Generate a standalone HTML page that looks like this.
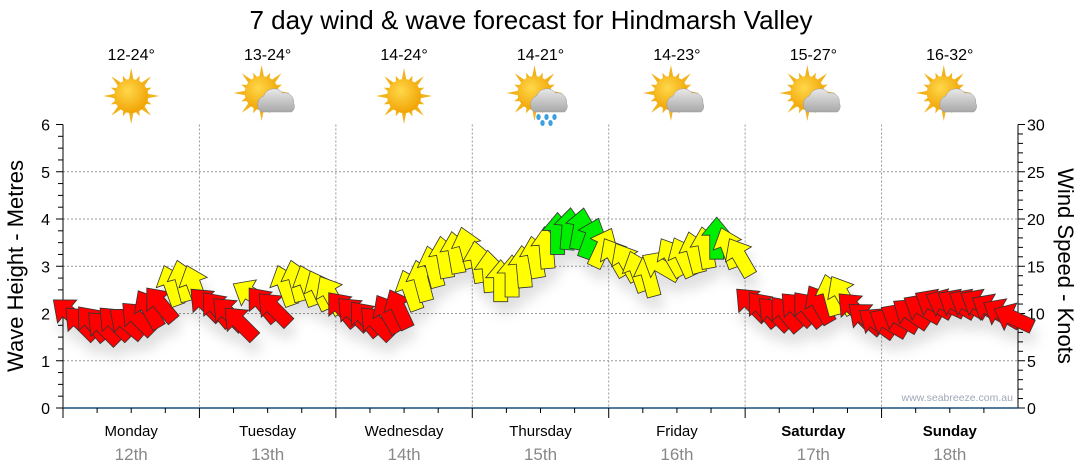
<!DOCTYPE html>
<html><head><meta charset="utf-8"><style>
html,body{margin:0;padding:0;background:#fff;}
svg{display:block;font-family:"Liberation Sans",sans-serif;}
</style></head><body>
<svg id="chart" width="1080" height="475" viewBox="0 0 1080 475">
<defs>
<radialGradient id="sung" cx="0.4" cy="0.35" r="0.7"><stop offset="0" stop-color="#ffd84a"/><stop offset="1" stop-color="#f0a000"/></radialGradient>
<linearGradient id="cloudg" x1="0" y1="0" x2="0" y2="1"><stop offset="0" stop-color="#e8e8e8"/><stop offset="1" stop-color="#a8a8a8"/></linearGradient>
<filter id="sh" x="-50%" y="-50%" width="200%" height="200%"><feDropShadow dx="3" dy="12" stdDeviation="6" flood-color="#000" flood-opacity="0.12"/></filter>
</defs>
<text x="531" y="29" text-anchor="middle" font-size="26" fill="#000">7 day wind &amp; wave forecast for Hindmarsh Valley</text>
<g id="grid"></g>
<g id="axes"></g>
<g id="icons"></g>
<g id="arrows" filter="url(#sh)"></g>
<text transform="translate(23,266) rotate(-90)" text-anchor="middle" font-size="22">Wave Height - Metres</text>
<text transform="translate(1058,266) rotate(90)" text-anchor="middle" font-size="22">Wind Speed - Knots</text>
<text x="1013" y="401" text-anchor="end" font-size="10.5" fill="#a0a8b8">www.seabreeze.com.au</text>
</svg>
<script>
const days = ["Monday","Tuesday","Wednesday","Thursday","Friday","Saturday","Sunday"];
const dates = ["12th","13th","14th","15th","16th","17th","18th"];
const temps = ["12-24°","13-24°","14-24°","14-21°","14-23°","15-27°","16-32°"];
const weather = ["sun","cloud","sun","rain","cloud","cloud","cloud"];
const waveTicks = [0,1,2,3,4,5,6];
const windTicks = [0,5,10,15,20,25,30];
const windSpeed = [
10.5,9.5,9.5,9,9.5,9.5,10,11,11.5,13.5,14,13.5,
11.5,11,10.5,9.5,12.5,11.5,11,13.5,14,13.5,13,12.5,
11,10.5,10,9.5,10.5,11,13,14,15.5,16.5,17,17.5,
16,15,14,14.5,15.5,16.5,17.5,19,19.5,19.5,18.5,17.5,
16.5,16,15,14.5,15.5,16.5,16.5,17,17.5,18.5,17.5,16.5,
11.5,11,10.5,10.5,11,11,11.5,12.5,12.5,11,10,9.5,
9.5,10,10.5,11,11.5,11.5,11.5,11.5,11.5,11,10.5,10];
const windDir = [
310,315,320,315,315,310,315,330,320,340,345,340,
315,320,315,315,300,320,315,340,345,340,335,330,
320,315,320,315,330,335,340,345,345,350,350,345,
350,355,0,0,355,350,355,0,5,10,20,25,
330,330,340,345,300,330,335,345,350,0,340,330,
315,320,315,320,315,320,330,345,330,315,310,305,
300,300,305,300,300,295,300,300,300,300,300,295];

const NS="http://www.w3.org/2000/svg";
const X0=63,X1=1018,Y0=408,YT=124.5;
const xDay = d => X0 + d*(X1-X0)/7;
const xPt = i => X0 + (i+0.5)*(X1-X0)/windSpeed.length;
const yWave = v => Y0 - v*(Y0-YT)/6;
const yWind = v => Y0 - v*(Y0-YT)/30;
function mk(tag,attrs,parent){const e=document.createElementNS(NS,tag);for(const k in attrs)e.setAttribute(k,attrs[k]);parent.appendChild(e);return e;}
const grid=document.getElementById('grid'),axes=document.getElementById('axes'),icons=document.getElementById('icons'),arrows=document.getElementById('arrows');

waveTicks.forEach(v=>{
  if(v>0&&v<6){const l=mk('line',{x1:X0,x2:X1,y1:yWave(v),y2:yWave(v),stroke:'#999','stroke-dasharray':'2,2','stroke-width':1},grid);
  
  }
  const t=mk('text',{x:50,y:yWave(v)+6,'text-anchor':'end','font-size':16},axes);t.textContent=v;
  
  
});
windTicks.forEach(v=>{
  const t=mk('text',{x:1027,y:yWind(v)+6,'font-size':16},axes);t.textContent=v;
  
  
});
for(let i=0;i<=24;i++){
  const y=yWave(i/4),len=i%4===0?7:5;
  mk('line',{x1:X0-len,x2:X0,y1:y,y2:y,stroke:'#000'},axes);
}
for(let i=0;i<=30;i++){
  const y=yWind(i),len=i%5===0?7:5;
  mk('line',{x1:X1,x2:X1+len,y1:y,y2:y,stroke:'#000'},axes);
}
mk('line',{x1:X0,x2:X0,y1:YT,y2:Y0,stroke:'#000'},axes);
mk('line',{x1:X1,x2:X1,y1:YT,y2:Y0,stroke:'#000'},axes);
mk('line',{x1:X0,x2:X1,y1:Y0,y2:Y0,stroke:'#1a4f7a','stroke-width':1.5},axes);
for(let d=0;d<7;d++){
  if(d>0){const l=mk('line',{x1:xDay(d),x2:xDay(d),y1:YT,y2:Y0,stroke:'#999','stroke-dasharray':'2,2'},grid);
  
  }
  for(let q=0;q<4;q++){const x=xDay(d)+q*(X1-X0)/28;mk('line',{x1:x,x2:x,y1:Y0,y2:Y0+(q===0?10:5),stroke:'#000'},axes);}
  const cx=(xDay(d)+xDay(d+1))/2;
  const bold=d>=5;
  const t=mk('text',{x:cx,y:436,'text-anchor':'middle','font-size':15,'font-weight':bold?'bold':'normal'},axes);t.textContent=days[d];
  
  
  const t2=mk('text',{x:cx,y:460,'text-anchor':'middle','font-size':17,fill:'#888'},axes);t2.textContent=dates[d];
  
  
  const t3=mk('text',{x:cx,y:60,'text-anchor':'middle','font-size':16},icons);t3.textContent=temps[d];
  
  
  const g=mk('g',{transform:`translate(${cx},${96})`},icons);
  
  
  const sx=weather[d]==='sun'?0:-6, sy=weather[d]==='sun'?0:-3;
  for(let k=0;k<16;k++){const a=k*Math.PI/8,r1=k%2?22:28;
    const p=[[sx+Math.cos(a)*r1,sy+Math.sin(a)*r1],[sx+Math.cos(a+0.2)*14,sy+Math.sin(a+0.2)*14],[sx+Math.cos(a-0.2)*14,sy+Math.sin(a-0.2)*14]];
    mk('polygon',{points:p.map(q=>q.join(',')).join(' '),fill:'#f2b21a'},g);}
  mk('circle',{cx:sx,cy:sy,r:17,fill:'url(#sung)'},g);
  if(weather[d]!=='sun'){
    mk('path',{d:'M-6,16 a9,9 0 0 1 2,-16 a11,11 0 0 1 19,-3 a9,9 0 0 1 11,10 a7,7 0 0 1 -2,9 Z',fill:'url(#cloudg)',stroke:'#999','stroke-width':0.5},g);
    if(weather[d]==='rain'){[[-2,21],[6,21],[14,21],[2,27],[10,27]].forEach(p=>mk('ellipse',{cx:p[0],cy:p[1],rx:2.2,ry:3,fill:'#3aa0e0'},g));}
  }
}
function arrowColor(s){return s>=18?'#00ee00':(s>=12?'#ffff00':'#ff0000');}
windSpeed.forEach((s,i)=>{
  const x=xPt(i),y=yWind(s);
  const p=mk('polygon',{points:'0,-20 15,-2 7,-2 7,22 -7,22 -7,-2 -15,-2',fill:arrowColor(s),stroke:'#333','stroke-width':0.8,'stroke-linejoin':'miter',transform:`translate(${x},${y+4}) rotate(${windDir[i]})`},arrows);
  
  
});
</script>
</body></html>
